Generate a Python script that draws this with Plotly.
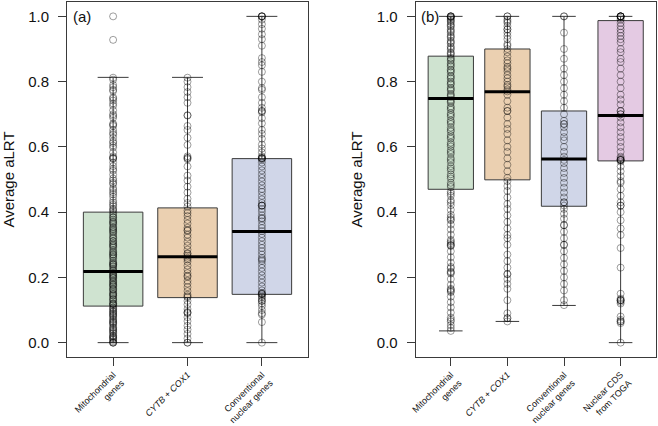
import plotly.graph_objects as go

# ---------------- data ----------------
cats_a = ["Mitochondrial<br>genes", "<i>CYTB</i> + <i>COX1</i>", "Conventional<br>nuclear genes"]
cats_b = ["Mitochondrial<br>genes", "<i>CYTB</i> + <i>COX1</i>", "Conventional<br>nuclear genes", "Nuclear CDS<br>from TOGA"]

# box statistics (lower whisker, q1, median, q3, upper whisker)
a_low = [0.0, 0.0, 0.0]
a_q1 = [0.112, 0.138, 0.148]
a_med = [0.218, 0.263, 0.341]
a_q3 = [0.400, 0.413, 0.564]
a_high = [0.813, 0.813, 1.0]

b_low = [0.036, 0.065, 0.114, 0.0]
b_q1 = [0.470, 0.499, 0.418, 0.557]
b_med = [0.748, 0.769, 0.563, 0.696]
b_q3 = [0.878, 0.900, 0.710, 0.987]
b_high = [1.0, 1.0, 1.0, 1.0]

# individual gene values
a_mito = [1.0, 0.928, 0.812, 0.806, 0.79, 0.783, 0.771, 0.752, 0.748, 0.733, 0.726, 0.712, 0.70,
          0.689, 0.671, 0.664, 0.652, 0.643, 0.628, 0.617, 0.604, 0.598, 0.583, 0.571, 0.566, 0.552,
          0.541, 0.527, 0.515, 0.503, 0.497, 0.486, 0.474, 0.468, 0.455, 0.447, 0.436, 0.429, 0.418,
          0.41, 0.402, 0.396, 0.391, 0.383, 0.377, 0.369, 0.362, 0.355, 0.348, 0.341, 0.333, 0.327,
          0.319, 0.312, 0.305, 0.298, 0.291, 0.284, 0.279, 0.271, 0.266, 0.258, 0.251, 0.246, 0.239,
          0.232, 0.226, 0.219, 0.214, 0.208, 0.202, 0.197, 0.191, 0.185, 0.178, 0.172, 0.166, 0.161,
          0.155, 0.149, 0.143, 0.137, 0.131, 0.126, 0.119, 0.114, 0.108, 0.102, 0.097, 0.091, 0.085,
          0.079, 0.073, 0.066, 0.061, 0.054, 0.047, 0.041, 0.035, 0.028, 0.022, 0.015, 0.009, 0.004,
          0.0, 0.0, 0.31, 0.27, 0.24, 0.205, 0.18, 0.15, 0.12, 0.095, 0.07, 0.045, 0.02, 0.385, 0.345,
          0.775, 0.742, 0.695, 0.668, 0.638, 0.612, 0.566, 0.563, 0.532, 0.49, 0.461, 0.423, 0.407,
          0.372, 0.352, 0.322, 0.295, 0.262, 0.235, 0.211, 0.188, 0.163, 0.133, 0.105, 0.082, 0.058,
          0.031, 0.012, 0.0, 0.366, 0.338, 0.301, 0.276, 0.243, 0.222, 0.199, 0.175, 0.145, 0.117,
          0.088, 0.063, 0.038, 0.017]
a_cytb = [0.812, 0.80, 0.783, 0.768, 0.752, 0.735, 0.697, 0.696, 0.664, 0.652, 0.628, 0.606, 0.571,
          0.566, 0.562, 0.54, 0.512, 0.497, 0.478, 0.46, 0.441, 0.428, 0.417, 0.405, 0.397, 0.388,
          0.376, 0.365, 0.352, 0.343, 0.331, 0.322, 0.309, 0.297, 0.285, 0.274, 0.266, 0.26, 0.248,
          0.236, 0.224, 0.213, 0.202, 0.19, 0.181, 0.17, 0.158, 0.147, 0.139, 0.128, 0.117, 0.103,
          0.094, 0.091, 0.078, 0.066, 0.052, 0.04, 0.027, 0.013, 0.0, 0.566, 0.345, 0.272, 0.255,
          0.205, 0.142, 0.091, 0.0]
a_conv = [1.0, 1.0, 1.0, 0.99, 0.976, 0.962, 0.945, 0.93, 0.91, 0.872, 0.86, 0.85, 0.83, 0.80, 0.78,
          0.775, 0.752, 0.735, 0.72, 0.71, 0.706, 0.688, 0.672, 0.652, 0.64, 0.625, 0.607, 0.595,
          0.583, 0.571, 0.567, 0.565, 0.561, 0.552, 0.54, 0.528, 0.516, 0.505, 0.494, 0.482, 0.471,
          0.462, 0.45, 0.439, 0.428, 0.42, 0.41, 0.401, 0.39, 0.38, 0.372, 0.36, 0.351, 0.342, 0.333,
          0.322, 0.311, 0.3, 0.29, 0.28, 0.27, 0.26, 0.25, 0.24, 0.229, 0.218, 0.206, 0.195, 0.184,
          0.172, 0.16, 0.152, 0.148, 0.144, 0.14, 0.134, 0.128, 0.12, 0.112, 0.1, 0.09, 0.086, 0.063, 0.0,
          1.0, 0.565, 0.565, 0.71, 0.42, 0.42, 0.15, 0.15, 0.128, 0.382, 0.255]

b_mito = [1.0, 1.0, 1.0, 0.995, 0.99, 0.983, 0.976, 0.968, 0.96, 0.951, 0.943, 0.934, 0.925, 0.917,
          0.908, 0.899, 0.89, 0.882, 0.873, 0.864, 0.856, 0.846, 0.837, 0.828, 0.818, 0.809, 0.8,
          0.791, 0.781, 0.772, 0.762, 0.753, 0.744, 0.735, 0.724, 0.714, 0.703, 0.692, 0.681, 0.67,
          0.659, 0.647, 0.636, 0.625, 0.613, 0.601, 0.59, 0.578, 0.566, 0.553, 0.541, 0.528, 0.516,
          0.503, 0.49, 0.477, 0.463, 0.45, 0.436, 0.421, 0.407, 0.392, 0.378, 0.375, 0.362, 0.347,
          0.331, 0.315, 0.305, 0.298, 0.296, 0.28, 0.262, 0.245, 0.228, 0.215, 0.212, 0.195, 0.177,
          0.162, 0.158, 0.141, 0.124, 0.108, 0.092, 0.077, 0.065, 0.054, 0.045, 0.036,
          1.0, 0.997, 0.986, 0.972, 0.955, 0.938, 0.921, 0.903, 0.886, 0.869, 0.851, 0.833, 0.814,
          0.795, 0.777, 0.758, 0.739, 0.719, 0.698, 0.676, 0.652, 0.63, 0.607, 0.584, 0.56, 0.534,
          0.509, 0.483, 0.457, 0.43, 0.384, 0.31, 0.3, 0.232, 0.218, 0.165, 0.155, 0.07]
b_cytb = [1.0, 0.99, 0.98, 0.97, 0.96, 0.95, 0.94, 0.93, 0.915, 0.9, 0.89, 0.877, 0.865, 0.856, 0.845,
          0.832, 0.82, 0.81, 0.8, 0.785, 0.776, 0.77, 0.76, 0.74, 0.72, 0.71, 0.69, 0.67, 0.655, 0.64,
          0.62, 0.60, 0.585, 0.565, 0.545, 0.525, 0.505, 0.495, 0.48, 0.465, 0.445, 0.425, 0.41,
          0.39, 0.37, 0.35, 0.33, 0.32, 0.3, 0.27, 0.25, 0.23, 0.21, 0.195, 0.18, 0.165, 0.13, 0.09,
          0.075, 0.065, 1.0, 0.985, 0.96, 0.91, 0.84, 0.79, 0.71, 0.21, 0.075]
b_conv = [1.0, 0.95, 0.9, 0.87, 0.84, 0.82, 0.8, 0.78, 0.76, 0.74, 0.72, 0.70, 0.68, 0.67, 0.66,
          0.645, 0.63, 0.62, 0.6, 0.585, 0.57, 0.56, 0.55, 0.535, 0.52, 0.505, 0.49, 0.475, 0.46,
          0.445, 0.43, 0.42, 0.41, 0.395, 0.38, 0.36, 0.34, 0.32, 0.3, 0.28, 0.26, 0.24, 0.22, 0.2,
          0.18, 0.16, 0.13, 0.115, 1.0, 0.67, 0.36, 0.3, 0.43]
b_toga = [1.0, 1.0, 1.0, 1.0, 0.99, 0.98, 0.97, 0.96, 0.95, 0.94, 0.93, 0.92, 0.9, 0.89, 0.87, 0.86,
          0.84, 0.82, 0.80, 0.78, 0.76, 0.745, 0.73, 0.71, 0.70, 0.70, 0.69, 0.675, 0.66, 0.645, 0.63,
          0.615, 0.6, 0.585, 0.57, 0.56, 0.56, 0.555, 0.54, 0.525, 0.51, 0.495, 0.49, 0.47, 0.45,
          0.43, 0.42, 0.40, 0.375, 0.35, 0.33, 0.29, 0.23, 0.15, 0.135, 0.13, 0.125, 0.12, 0.08,
          0.07, 0.065, 0.06, 0.0, 1.0, 1.0, 0.995, 0.56, 0.56, 0.565, 0.71, 0.13, 0.13, 0.065, 0.42]

fills = ["#cfe3d0", "#ebd0b1", "#d0d6e8", "#e4cae3"]

# ---------------- figure ----------------
fig = go.Figure()
BOXW = 0.8
EDGE = "#3a3a3a"
PT = "rgba(0,0,0,0.38)"


def add_panel(xa, ya, lows, q1s, meds, q3s, highs, points):
    for i in range(len(meds)):
        xi = i + 1
        fig.add_trace(go.Box(
            x=[xi], q1=[q1s[i]], median=[meds[i]], q3=[q3s[i]],
            lowerfence=[lows[i]], upperfence=[highs[i]],
            width=BOXW, whiskerwidth=0.52, fillcolor=fills[i],
            line=dict(color=EDGE, width=1), boxpoints=False,
            xaxis=xa, yaxis=ya, showlegend=False, hoverinfo="skip"))
    for i, vals in enumerate(points):
        fig.add_trace(go.Scatter(
            x=[i + 1] * len(vals), y=vals, mode="markers",
            marker=dict(symbol="circle-open", size=7, color=PT, line=dict(width=1, color=PT)),
            xaxis=xa, yaxis=ya, showlegend=False, hoverinfo="skip"))
    for i in range(len(meds)):
        fig.add_trace(go.Scatter(
            x=[i + 1 - BOXW / 2, i + 1 + BOXW / 2], y=[meds[i], meds[i]], mode="lines",
            line=dict(color="black", width=3), xaxis=xa, yaxis=ya,
            showlegend=False, hoverinfo="skip"))


add_panel("x", "y", a_low, a_q1, a_med, a_q3, a_high, [a_mito, a_cytb, a_conv])
add_panel("x2", "y2", b_low, b_q1, b_med, b_q3, b_high, [b_mito, b_cytb, b_conv, b_toga])

FONT = "Liberation Sans, Arial, sans-serif"
W, H = 658, 426
ytop = 1 - 2 / H
ybot = 1 - 357 / H

xcommon = dict(showline=True, mirror=True, linecolor=EDGE, linewidth=1, showgrid=False,
               zeroline=False, ticks="outside", ticklen=8, tickcolor=EDGE, tickangle=-45,
               tickfont=dict(family=FONT, size=9, color="#111"), automargin=False)
ycommon = dict(showline=True, mirror=True, linecolor=EDGE, linewidth=1, showgrid=False,
               zeroline=False, ticks="outside", ticklen=8, tickcolor=EDGE,
               range=[-0.044, 1.044], tickvals=[0, 0.2, 0.4, 0.6, 0.8, 1.0],
               ticktext=["0.0", "0.2", "0.4", "0.6", "0.8", "1.0"], ticklabelstandoff=6,
               tickfont=dict(family=FONT, size=15, color="#111"), automargin=False,
               title=dict(text="Average aLRT", font=dict(family=FONT, size=15, color="#111"),
                          standoff=10))

fig.update_layout(
    width=W, height=H, margin=dict(l=0, r=0, t=0, b=0),
    paper_bgcolor="white", plot_bgcolor="white",
    xaxis=dict(domain=[67 / W, 308 / W], range=[0.38, 3.62], tickvals=[1, 2, 3],
               ticktext=cats_a, anchor="y", **xcommon),
    yaxis=dict(domain=[ybot, ytop], anchor="x", **ycommon),
    xaxis2=dict(domain=[415.7 / W, 655.7 / W], range=[0.38, 4.62], tickvals=[1, 2, 3, 4],
                ticktext=cats_b, anchor="y2", **xcommon),
    yaxis2=dict(domain=[ybot, ytop], anchor="x2", **ycommon),
    annotations=[
        dict(text="(a)", xref="x domain", yref="y", x=0.015, y=1.0, xanchor="left",
             yanchor="middle", showarrow=False, font=dict(family=FONT, size=15, color="#111")),
        dict(text="(b)", xref="x2 domain", yref="y2", x=0.015, y=1.0, xanchor="left",
             yanchor="middle", showarrow=False, font=dict(family=FONT, size=15, color="#111")),
    ],
)

fig.write_html("out.html")
